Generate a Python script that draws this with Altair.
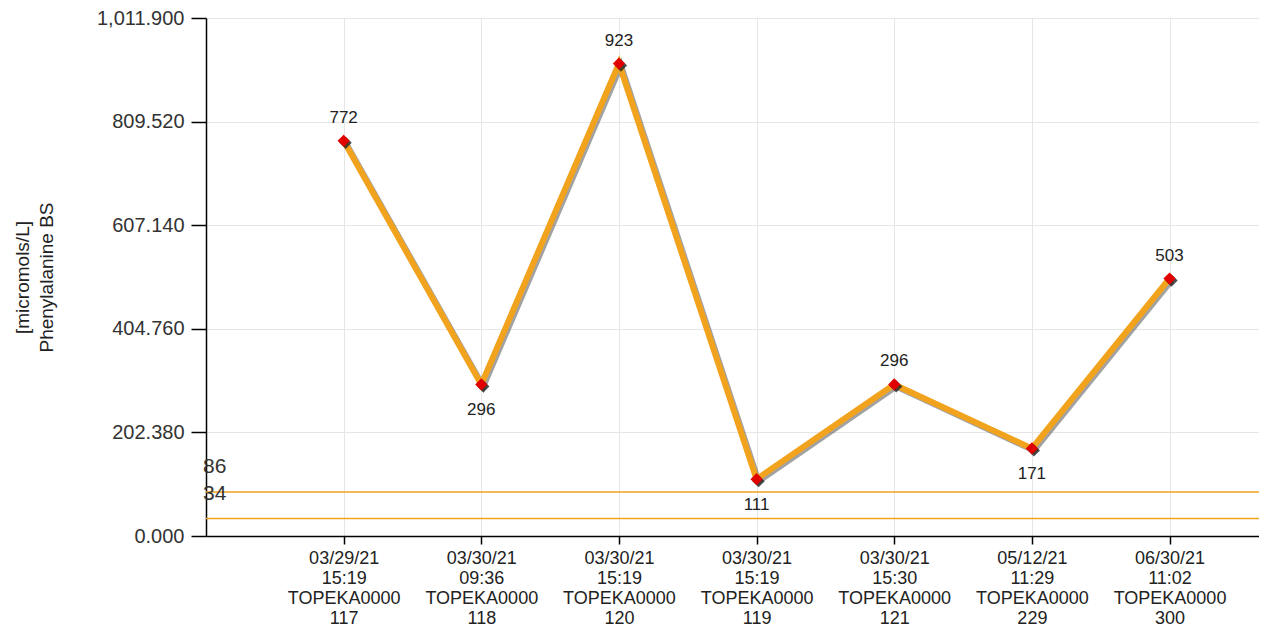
import altair as alt
import pandas as pd

# ---- data ----
x_dates = ["03/29/21", "03/30/21", "03/30/21", "03/30/21", "03/30/21", "05/12/21", "06/30/21"]
x_times = ["15:19", "09:36", "15:19", "15:19", "15:30", "11:29", "11:02"]
x_ids = ["117", "118", "120", "119", "121", "229", "300"]
values = [772, 296, 923, 111, 296, 171, 503]
ref_values = [86, 34]
y_ticks = [0.0, 202.38, 404.76, 607.14, 809.52, 1011.9]

n = len(values)
labels = [f"{d}|{t}|TOPEKA0000|{i}" for d, t, i in zip(x_dates, x_times, x_ids)]

# label above if point is a local peak, else below
pos = []
for k, v in enumerate(values):
    prev_v = values[k - 1] if k > 0 else None
    next_v = values[k + 1] if k < n - 1 else None
    neighbors = [w for w in (prev_v, next_v) if w is not None]
    pos.append("above" if all(v >= w for w in neighbors) else "below")

df = pd.DataFrame({"idx": list(range(1, n + 1)), "value": values, "pos": pos})
ref_df = pd.DataFrame({"ref": ref_values})

label_arr = "[" + ",".join("'" + s + "'" for s in labels) + "]"
label_expr = f"datum.value >= 1 && datum.value <= {n} ? split({label_arr}[datum.value - 1], '|') : ''"

FONT = "Liberation Sans"
ORANGE = "#F2A31E"

x_enc = alt.X(
    "idx:Q",
    scale=alt.Scale(domain=[0, 7.65], nice=False, zero=False),
    axis=alt.Axis(
        values=list(range(1, n + 1)),
        labelExpr=label_expr,
        title=None,
        grid=True,
        gridColor="#e6e6e6",
        domainColor="#000000",
        domainWidth=1.5,
        tickColor="#000000",
        tickSize=8,
        tickWidth=1.5,
        labelFont=FONT,
        labelFontSize=18,
        labelColor="#222222",
        labelLineHeight=20,
        labelPadding=5,
    ),
)
y_scale = alt.Scale(domain=[0, 1011.9], nice=False, zero=True)
y_enc = alt.Y(
    "value:Q",
    scale=y_scale,
    axis=alt.Axis(
        values=y_ticks,
        format=",.3f",
        title=["[micromols/L]", "Phenylalanine BS"],
        titleFont=FONT,
        titleFontSize=19,
        titleFontWeight="normal",
        titleColor="#222222",
        titlePadding=40,
        titleLineHeight=24,
        grid=True,
        gridColor="#e6e6e6",
        domainColor="#000000",
        domainWidth=1.5,
        tickColor="#000000",
        tickSize=15,
        tickWidth=1.5,
        labelFont=FONT,
        labelFontSize=20,
        labelColor="#333333",
        labelPadding=7,
    ),
)

base = alt.Chart(df).encode(x=x_enc, y=y_enc)

rules = alt.Chart(ref_df).mark_rule(color=ORANGE, strokeWidth=1.5).encode(
    y=alt.Y("ref:Q", scale=y_scale)
)
rule_text = alt.Chart(ref_df).mark_text(
    align="left", baseline="middle", dy=-25, font=FONT, fontSize=21, color="#333333"
).encode(
    y=alt.Y("ref:Q", scale=y_scale),
    x=alt.value(-3),
    text=alt.Text("ref:Q"),
)

shadow_line = base.mark_line(
    color="#555555", strokeWidth=6, opacity=0.55, xOffset=2, yOffset=2
)
line = base.mark_line(color=ORANGE, strokeWidth=6)
shadow_pts = base.mark_point(
    shape="diamond", filled=True, size=150, color="#222222", opacity=0.8, xOffset=2, yOffset=2
)
pts = base.mark_point(shape="diamond", filled=True, size=150, color="#E00000", opacity=1)

txt_above = base.transform_filter(alt.datum.pos == "above").mark_text(
    dy=-23, font=FONT, fontSize=17, color="#222222"
).encode(text=alt.Text("value:Q"))
txt_below = base.transform_filter(alt.datum.pos == "below").mark_text(
    dy=26, font=FONT, fontSize=17, color="#222222"
).encode(text=alt.Text("value:Q"))

chart = alt.layer(
    rules, rule_text, shadow_line, line, shadow_pts, pts, txt_above, txt_below
).properties(
    width=1053,
    height=518,
    autosize=alt.AutoSizeParams(type="none"),
    padding={"left": 198, "top": 10, "right": 0, "bottom": 91},
).configure_view(stroke=None).configure(background="white")

chart.save("out.html", embed_options={"renderer": "svg", "actions": False})
